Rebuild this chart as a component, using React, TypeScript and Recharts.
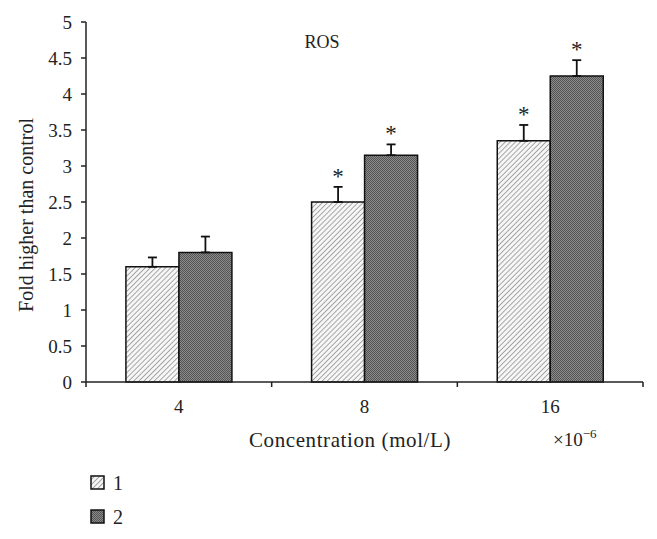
import { BarChart, Bar, XAxis, YAxis, ErrorBar, LabelList } from "recharts";

// concentrations (x10^-6 mol/L)
const categories = ["4", "8", "16"];
const group1 = [1.6, 2.5, 3.35];
const group2 = [1.8, 3.15, 4.25];
const err1 = [0.13, 0.21, 0.22];
const err2 = [0.22, 0.15, 0.22];
const sig1 = [false, true, true];
const sig2 = [false, true, true];
const yTicks = [0, 0.5, 1, 1.5, 2, 2.5, 3, 3.5, 4, 4.5, 5];
const seriesNames = ["1", "2"];

const FONT = "'Liberation Serif', 'DejaVu Serif', serif";
const INK = "#222";

const data = categories.map((c, i) => ({
  name: c,
  g1: group1[i],
  g2: group2[i],
  e1: [0, err1[i]],
  e2: [0, err2[i]],
  s1: sig1[i] ? err1[i] : null,
  s2: sig2[i] ? err2[i] : null,
}));

const XTick = (props: any) => {
  const { x, y, payload, index } = props;
  const half = payload && payload.offset != null ? payload.offset : props.width / categories.length / 2;
  return (
    <g>
      <line x1={x - half} x2={x - half} y1={y} y2={y + 5} stroke={INK} strokeWidth={1.5} />
      {index === categories.length - 1 && (
        <line x1={x + half} x2={x + half} y1={y} y2={y + 5} stroke={INK} strokeWidth={1.5} />
      )}
      <text x={x} y={y + 31} textAnchor="middle" fontFamily={FONT} fontSize={19} fill={INK}>
        {payload.value}
      </text>
    </g>
  );
};

// asterisk above the error bar, uses bar height / value to get the scale
const makeStar = (key: "g1" | "g2") => (props: any) => {
  const { x, y, width, height, value, index } = props;
  if (value == null || index == null) return null;
  const v = data[index][key];
  const pxPerUnit = height / v;
  const top = y - value * pxPerUnit;
  return (
    <text x={x + width / 2} y={top - 3} textAnchor="middle" fontFamily={FONT} fontSize={23} fill={INK}>
      *
    </text>
  );
};

export default function App() {
  return (
    <div style={{ position: "absolute", left: 0, top: 0, width: 657, height: 539, background: "#fff" }}>
      <svg width={0} height={0} style={{ position: "absolute" }}>
        <defs>
          <pattern id="hatch" patternUnits="userSpaceOnUse" width={3.6} height={3.6} patternTransform="rotate(45)">
            <rect width={3.6} height={3.6} fill="#f6f6f6" />
            <line x1={0} y1={0} x2={0} y2={3.6} stroke="#8e8e8e" strokeWidth={1.5} />
          </pattern>
          <pattern id="dots" patternUnits="userSpaceOnUse" width={2} height={2}>
            <rect width={2} height={2} fill="#8a8a8a" />
            <rect x={0} y={0} width={1} height={1} fill="#555" />
            <rect x={1} y={1} width={1} height={1} fill="#555" />
          </pattern>
        </defs>
      </svg>
      <BarChart
        width={657}
        height={539}
        data={data}
        margin={{ top: 22, right: 14, bottom: 127, left: 36 }}
        barCategoryGap="21.5%"
        barGap={0}
      >
        <XAxis
          dataKey="name"
          height={30}
          axisLine={{ stroke: INK, strokeWidth: 1.5 }}
          tickLine={false}
          tickSize={0}
          tickMargin={0}
          tick={<XTick />}
          interval={0}
        />
        <YAxis
          type="number"
          domain={[0, 5]}
          ticks={yTicks}
          width={50}
          interval={0}
          axisLine={{ stroke: INK, strokeWidth: 1.5 }}
          tickLine={{ stroke: INK, strokeWidth: 1.5 }}
          tickSize={5}
          tickMargin={9}
          tick={{ fontFamily: FONT, fontSize: 19, fill: INK }}
        />
        <Bar dataKey="g1" fill="url(#hatch)" stroke="#111" strokeWidth={1.5} isAnimationActive={false}>
          <ErrorBar dataKey="e1" width={4.5} stroke="#111" strokeWidth={1.8} direction="y" />
          <LabelList dataKey="s1" content={makeStar("g1")} />
        </Bar>
        <Bar dataKey="g2" fill="url(#dots)" stroke="#111" strokeWidth={1.5} isAnimationActive={false}>
          <ErrorBar dataKey="e2" width={4.5} stroke="#111" strokeWidth={1.8} direction="y" />
          <LabelList dataKey="s2" content={makeStar("g2")} />
        </Bar>
      </BarChart>
      <svg
        width={657}
        height={539}
        style={{ position: "absolute", left: 0, top: 0, pointerEvents: "none" }}
        fontFamily={FONT}
        fill={INK}
      >
        <text x={322} y={48} textAnchor="middle" fontSize={18}>ROS</text>
        <text x={0} y={0} transform="translate(33,215) rotate(-90)" textAnchor="middle" fontSize={20}>
          Fold higher than control
        </text>
        <text x={350} y={447} textAnchor="middle" fontSize={21} letterSpacing={0.6}>Concentration (mol/L)</text>
        <text x={553} y={446} fontSize={19}>
          ×10
          <tspan dy={-8} fontSize={13}>−6</tspan>
        </text>
        <rect x={91} y={476} width={13} height={13} fill="url(#hatch)" stroke="#111" strokeWidth={1.5} />
        <text x={113} y={490} fontSize={20}>{seriesNames[0]}</text>
        <rect x={91} y={510} width={13} height={13} fill="url(#dots)" stroke="#111" strokeWidth={1.5} />
        <text x={113} y={524} fontSize={20}>{seriesNames[1]}</text>
      </svg>
    </div>
  );
}
